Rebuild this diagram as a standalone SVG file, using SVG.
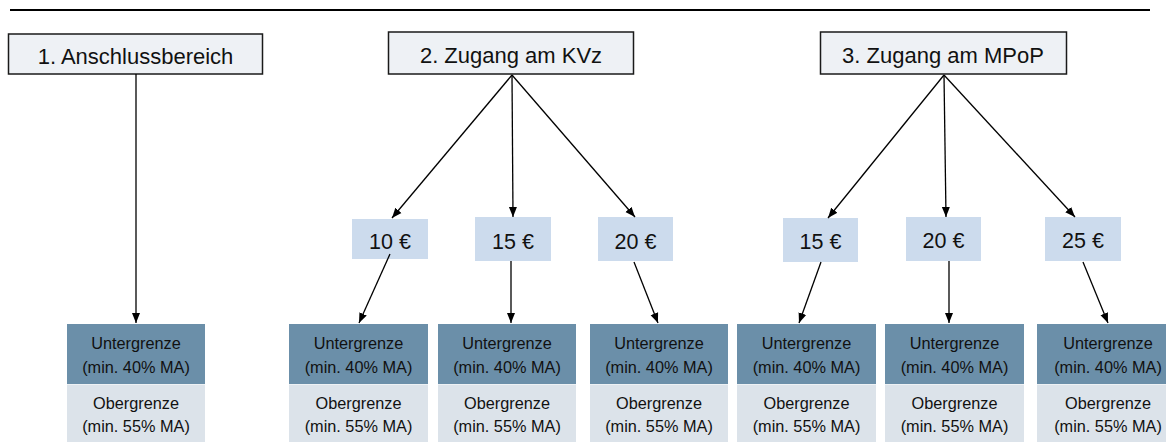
<svg xmlns="http://www.w3.org/2000/svg" width="1166" height="446" viewBox="0 0 1166 446">
<defs>
<marker id="ah" markerUnits="userSpaceOnUse" markerWidth="10" markerHeight="10" viewBox="0 0 10 10" refX="10" refY="5" orient="auto">
<path d="M0,1 L10,5 L0,9 Z" fill="#000"/>
</marker>
<style>
.hdr{fill:#eef1f5;stroke:#1a1a1a;stroke-width:1.5}
.ht{font-family:"Liberation Sans",Arial,sans-serif;font-size:22px;fill:#111;text-anchor:middle}
.pr{fill:#ccdbed}
.pt{font-family:"Liberation Sans",Arial,sans-serif;font-size:21.5px;fill:#111;text-anchor:middle}
.up{fill:#6b8fa9}
.lo{fill:#dce3ea}
.bt{font-family:"Liberation Sans",Arial,sans-serif;font-size:16.3px;fill:#111;text-anchor:middle}
.cn{stroke:#000;stroke-width:1.3;fill:none;marker-end:url(#ah)}
</style>
</defs>
<rect width="1166" height="446" fill="#fff"/>
<line x1="10" y1="10" x2="1150" y2="10" stroke="#000" stroke-width="2.2"/>

<g id="h1"><rect class="hdr" x="8.5" y="34" width="254" height="40"/><text class="ht" x="135.5" y="64">1. Anschlussbereich</text></g>
<g id="h2"><rect class="hdr" x="388.5" y="32" width="245" height="42"/><text class="ht" x="511" y="63">2. Zugang am KVz</text></g>
<g id="h3"><rect class="hdr" x="820.5" y="32" width="246" height="42"/><text class="ht" x="943" y="63">3. Zugang am MPoP</text></g>

<g id="p1"><rect class="pr" x="352" y="219" width="76" height="40"/><text class="pt" x="390" y="249">10 €</text></g>
<g id="p2"><rect class="pr" x="475" y="217" width="76" height="44"/><text class="pt" x="513" y="249">15 €</text></g>
<g id="p3"><rect class="pr" x="598" y="217" width="75" height="44"/><text class="pt" x="635.5" y="249">20 €</text></g>
<g id="p4"><rect class="pr" x="783" y="218" width="75" height="44"/><text class="pt" x="820.5" y="249">15 €</text></g>
<g id="p5"><rect class="pr" x="906" y="217" width="75" height="44"/><text class="pt" x="943.5" y="248">20 €</text></g>
<g id="p6"><rect class="pr" x="1045" y="217" width="76" height="44"/><text class="pt" x="1083" y="248">25 €</text></g>

<g id="b1"><rect class="up" x="67" y="324" width="138" height="60"/><rect class="lo" x="67" y="384.5" width="138" height="57.5"/>
<text class="bt" x="136" y="349">Untergrenze</text><text class="bt" x="136" y="373">(min. 40% MA)</text>
<text class="bt" x="136" y="409">Obergrenze</text><text class="bt" x="136" y="432">(min. 55% MA)</text></g>
<g id="b2"><rect class="up" x="289" y="324" width="139" height="60"/><rect class="lo" x="289" y="384.5" width="139" height="57.5"/>
<text class="bt" x="358.5" y="349">Untergrenze</text><text class="bt" x="358.5" y="373">(min. 40% MA)</text>
<text class="bt" x="358.5" y="409">Obergrenze</text><text class="bt" x="358.5" y="432">(min. 55% MA)</text></g>
<g id="b3"><rect class="up" x="438" y="324" width="138" height="60"/><rect class="lo" x="438" y="384.5" width="138" height="57.5"/>
<text class="bt" x="507" y="349">Untergrenze</text><text class="bt" x="507" y="373">(min. 40% MA)</text>
<text class="bt" x="507" y="409">Obergrenze</text><text class="bt" x="507" y="432">(min. 55% MA)</text></g>
<g id="b4"><rect class="up" x="590" y="324" width="138" height="60"/><rect class="lo" x="590" y="384.5" width="138" height="57.5"/>
<text class="bt" x="659" y="349">Untergrenze</text><text class="bt" x="659" y="373">(min. 40% MA)</text>
<text class="bt" x="659" y="409">Obergrenze</text><text class="bt" x="659" y="432">(min. 55% MA)</text></g>
<g id="b5"><rect class="up" x="737" y="324" width="139" height="60"/><rect class="lo" x="737" y="384.5" width="139" height="57.5"/>
<text class="bt" x="806.5" y="349">Untergrenze</text><text class="bt" x="806.5" y="373">(min. 40% MA)</text>
<text class="bt" x="806.5" y="409">Obergrenze</text><text class="bt" x="806.5" y="432">(min. 55% MA)</text></g>
<g id="b6"><rect class="up" x="885" y="324" width="139" height="60"/><rect class="lo" x="885" y="384.5" width="139" height="57.5"/>
<text class="bt" x="954.5" y="349">Untergrenze</text><text class="bt" x="954.5" y="373">(min. 40% MA)</text>
<text class="bt" x="954.5" y="409">Obergrenze</text><text class="bt" x="954.5" y="432">(min. 55% MA)</text></g>
<g id="b7"><rect class="up" x="1037" y="324" width="139" height="60"/><rect class="lo" x="1037" y="384.5" width="139" height="57.5"/>
<text class="bt" x="1108" y="349">Untergrenze</text><text class="bt" x="1108" y="373">(min. 40% MA)</text>
<text class="bt" x="1108" y="409">Obergrenze</text><text class="bt" x="1108" y="432">(min. 55% MA)</text></g>

<g id="connectors">
<line class="cn" x1="136" y1="74" x2="136" y2="323"/>
<line class="cn" x1="512" y1="75" x2="392" y2="218"/>
<line class="cn" x1="512" y1="75" x2="513" y2="217"/>
<line class="cn" x1="512" y1="75" x2="635" y2="217"/>
<line class="cn" x1="944" y1="75" x2="828" y2="218"/>
<line class="cn" x1="944" y1="75" x2="946" y2="217"/>
<line class="cn" x1="944" y1="75" x2="1075" y2="217"/>
<line class="cn" x1="390" y1="254" x2="359" y2="323"/>
<line class="cn" x1="511" y1="261" x2="511" y2="323"/>
<line class="cn" x1="634" y1="262" x2="658" y2="323"/>
<line class="cn" x1="821" y1="262" x2="799" y2="323"/>
<line class="cn" x1="949" y1="261" x2="949" y2="323"/>
<line class="cn" x1="1083" y1="262" x2="1108" y2="323"/>
</g>
</svg>
